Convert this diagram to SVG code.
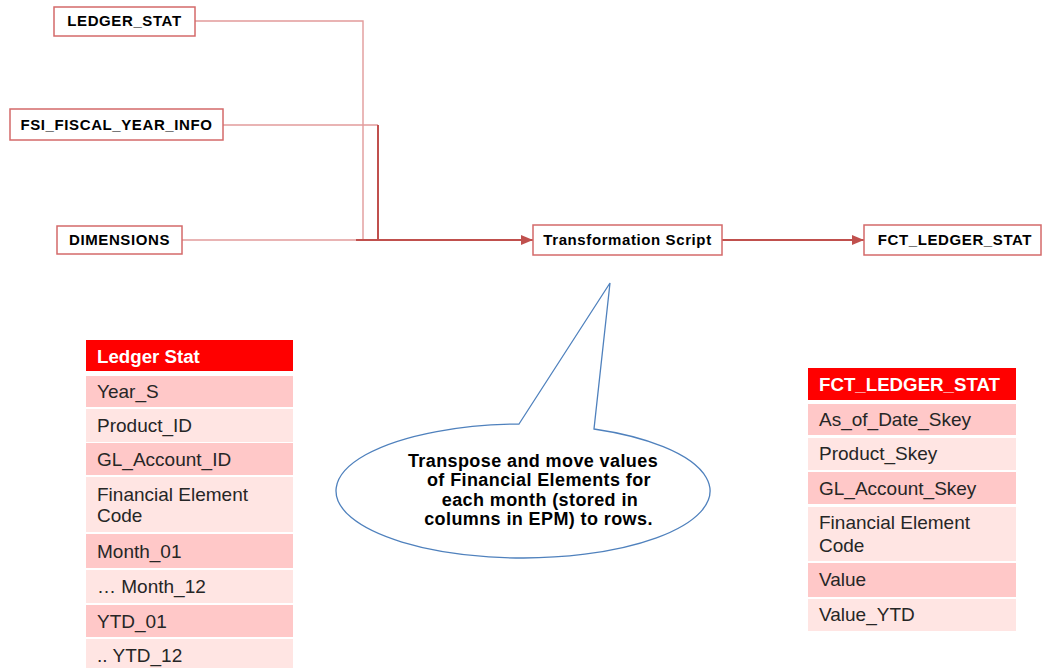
<svg xmlns="http://www.w3.org/2000/svg" width="1042" height="668" viewBox="0 0 1042 668">
  <defs>
    <marker id="arrow" viewBox="0 0 12 10" refX="12" refY="5" markerWidth="12" markerHeight="10" markerUnits="userSpaceOnUse" orient="auto">
      <path d="M0,0 L12,5 L0,10 Z" fill="#c0504d"/>
    </marker>
    <style>
      .box { fill: #ffffff; stroke: #d46a6a; stroke-width: 1.5; }
      .boxlabel { font-family: "Liberation Sans", Arial, sans-serif; font-size: 15px; font-weight: bold; letter-spacing: 0.6px; fill: #000; text-anchor: middle; }
      .feed { fill: none; stroke: #e29b9b; stroke-width: 1.4; }
      .main { fill: none; stroke: #c0504d; stroke-width: 2; }
      .hdr { fill: #ff0000; }
      .band1 { fill: #ffc8c8; }
      .band2 { fill: #ffe5e3; }
      .hdrtext { font-family: "Liberation Sans", Arial, sans-serif; font-size: 18.7px; font-weight: bold; fill: #ffffff; }
      .celltext { font-family: "Liberation Sans", Arial, sans-serif; font-size: 19px; fill: #262626; }
      .note { fill: #ffffff; stroke: #4f81bd; stroke-width: 1.3; }
      .notetext { font-family: "Liberation Sans", Arial, sans-serif; font-size: 18px; font-weight: bold; letter-spacing: 0.4px; fill: #000; text-anchor: middle; }
    </style>
  </defs>

  <rect width="1042" height="668" fill="#ffffff"/>

  <!-- connectors -->
  <g id="connectors">
    <polyline class="feed" points="195,21 363,21 363,240"/>
    <polyline class="feed" points="223,125 378,125"/>
    <line class="main" x1="378" y1="125" x2="378" y2="240"/>
    <line class="feed" x1="182" y1="240" x2="357" y2="240"/>
    <line class="main" x1="356" y1="240" x2="533" y2="240" marker-end="url(#arrow)"/>
    <line class="main" x1="722" y1="240" x2="864" y2="240" marker-end="url(#arrow)"/>
  </g>

  <!-- source and target boxes -->
  <g id="ledger-stat">
    <rect class="box" x="54" y="7" width="141" height="29"/>
    <text class="boxlabel" x="124.5" y="26">LEDGER_STAT</text>
  </g>
  <g id="fsi-fiscal-year-info">
    <rect class="box" x="10" y="109" width="213" height="31"/>
    <text class="boxlabel" x="116.5" y="130">FSI_FISCAL_YEAR_INFO</text>
  </g>
  <g id="dimensions">
    <rect class="box" x="57" y="226" width="125" height="28"/>
    <text class="boxlabel" x="119.5" y="245">DIMENSIONS</text>
  </g>
  <g id="transformation-script">
    <rect class="box" x="533" y="225" width="189" height="30"/>
    <text class="boxlabel" x="627.5" y="245">Transformation Script</text>
  </g>
  <g id="fct-ledger-stat">
    <rect class="box" x="864" y="225" width="177" height="30"/>
    <text class="boxlabel" x="955" y="245">FCT_LEDGER_STAT</text>
  </g>

  <!-- callout note -->
  <g id="note">
    <path class="note" d="M519,424 L610,283 L594,429 A187,67 0 1 1 519,424 Z"/>
    <text class="notetext" x="533" y="466.5">Transpose and move values</text>
    <text class="notetext" x="539" y="486">of Financial Elements for</text>
    <text class="notetext" x="540" y="505.5">each month (stored in</text>
    <text class="notetext" x="538.5" y="525">columns in EPM) to rows.</text>
  </g>

  <!-- Ledger Stat column list -->
  <g id="ledger-stat-table">
    <rect class="hdr" x="86" y="340" width="207" height="31"/>
    <text class="hdrtext" x="97" y="363">Ledger Stat</text>
    <rect class="band1" x="86" y="376" width="207" height="31"/>
    <text class="celltext" x="97" y="397.5">Year_S</text>
    <rect class="band2" x="86" y="409" width="207" height="33"/>
    <text class="celltext" x="97" y="431.5">Product_ID</text>
    <rect class="band1" x="86" y="443" width="207" height="32"/>
    <text class="celltext" x="97" y="465.5">GL_Account_ID</text>
    <rect class="band2" x="86" y="477" width="207" height="55"/>
    <text class="celltext" x="97" y="500.5">Financial Element</text>
    <text class="celltext" x="97" y="522">Code</text>
    <rect class="band1" x="86" y="534" width="207" height="34"/>
    <text class="celltext" x="97" y="557.5">Month_01</text>
    <rect class="band2" x="86" y="570" width="207" height="33"/>
    <text class="celltext" x="97" y="593">… Month_12</text>
    <rect class="band1" x="86" y="605" width="207" height="32"/>
    <text class="celltext" x="97" y="627.5">YTD_01</text>
    <rect class="band2" x="86" y="639" width="207" height="30"/>
    <text class="celltext" x="97" y="662">.. YTD_12</text>
  </g>

  <!-- FCT_LEDGER_STAT column list -->
  <g id="fct-ledger-stat-table">
    <rect class="hdr" x="808" y="368" width="208" height="32"/>
    <text class="hdrtext" x="819" y="390.5">FCT_LEDGER_STAT</text>
    <rect class="band1" x="808" y="404" width="208" height="31"/>
    <text class="celltext" x="819" y="426">As_of_Date_Skey</text>
    <rect class="band2" x="808" y="438" width="208" height="32"/>
    <text class="celltext" x="819" y="460">Product_Skey</text>
    <rect class="band1" x="808" y="472" width="208" height="32"/>
    <text class="celltext" x="819" y="495">GL_Account_Skey</text>
    <rect class="band2" x="808" y="507" width="208" height="54"/>
    <text class="celltext" x="819" y="528.5">Financial Element</text>
    <text class="celltext" x="819" y="551.5">Code</text>
    <rect class="band1" x="808" y="563" width="208" height="34"/>
    <text class="celltext" x="819" y="586">Value</text>
    <rect class="band2" x="808" y="599" width="208" height="32"/>
    <text class="celltext" x="819" y="621">Value_YTD</text>
  </g>
</svg>
